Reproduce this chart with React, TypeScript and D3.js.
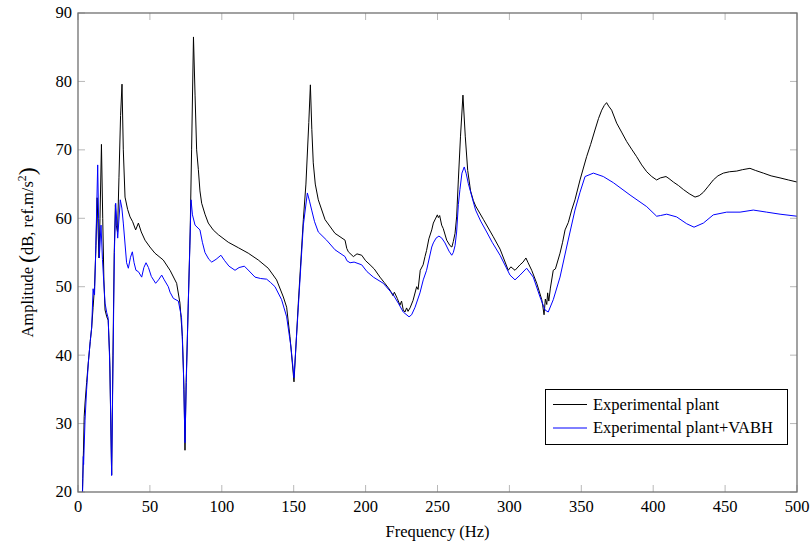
import React from "react";
import * as d3 from "d3";

// ---- data (frequency Hz, amplitude dB) ----
const plantPoints: [number, number][] = [
  [2.8, 17], [3.3, 22], [3.8, 26], [4.3, 31], [4.9, 33], [6, 36], [7.2, 39], [8.5, 42], [9.5, 44],
  [10.5, 47], [11.5, 50], [12.5, 56], [13.3, 63], [14.6, 54.2], [15.3, 60], [16.3, 70.8], [17.2, 60],
  [18, 51], [18.8, 46.6], [20, 45.6], [21, 45.1], [22, 40], [23.4, 22.5], [24.3, 40], [25.2, 55],
  [26, 62], [26.6, 59], [27.5, 58], [28.5, 66], [29.6, 75], [30.6, 79.6], [31.5, 70], [32.7, 63.1],
  [34.5, 61.3], [36.2, 60.2], [38, 59.5], [40.1, 58.3], [42, 59.3], [44, 58], [46.6, 56.8], [50, 55.8],
  [53.5, 54.9], [59.3, 53.9], [64, 52.4], [68.6, 50.5], [70.9, 47.6], [72.6, 42.7], [73.7, 35],
  [74.4, 26.1], [75.2, 36], [76.7, 47.6], [78, 58], [79, 70], [80.3, 86.5], [81.4, 78], [82.5, 70],
  [83.7, 67.1], [84.8, 64], [86, 62.2], [88.3, 60.6], [90.6, 59.3], [94, 58.3], [97.6, 57.6],
  [104.5, 56.5], [111.5, 55.7], [118.4, 54.9], [125.4, 53.9], [132.3, 52.7], [138.1, 51],
  [142.8, 48.5], [145.1, 47], [147.4, 42.7], [150.2, 36.1], [153.2, 47.6], [156.7, 59.8], [158.5, 65],
  [160.5, 74], [161.6, 79.5], [162.6, 73], [163.6, 68.1], [165, 65], [167.1, 62.7], [171.8, 59.8],
  [178.7, 57.8], [185.7, 56.8], [186.9, 55.6], [188, 55.1], [191.5, 54.4], [194, 54.8], [197.3, 54.6],
  [200, 53.8], [203.1, 53.2], [206, 52.6], [210, 51.4], [213, 50.6], [217, 49.5], [219, 48.7],
  [220, 49.2], [222, 48.3], [223.9, 47.3], [225, 47.9], [226.2, 46.6], [227.4, 46.3], [228.5, 46.9],
  [229.5, 46.4], [230.9, 46.9], [233, 48], [235.5, 50], [236.5, 49.6], [238, 52.4], [240, 53.2],
  [241.3, 54.4], [242.4, 55.3], [244, 57], [246, 58.3], [247.1, 59.3], [248.5, 59.9], [249.9, 60.5],
  [250.6, 60.1], [251.5, 60.4], [252.9, 59], [254, 58.5], [256.4, 56.8], [258.7, 56], [260, 55.8],
  [261, 56.6], [262.2, 57.8], [263.3, 60.2], [264.5, 65.6], [266, 72], [267.7, 78], [269.3, 72],
  [271, 67], [273, 64], [274.9, 62.6], [276.5, 61.8], [282, 59.8], [288.8, 57.3], [293.5, 55.5],
  [299.2, 52.4], [301, 52.9], [303.9, 52.4], [307.4, 53.2], [309.5, 53.6], [311.5, 54.2], [313, 53.5],
  [315.5, 52.4], [319, 50.5], [320.5, 49.5], [322.5, 48.1], [323.2, 47.2], [324.1, 45.9], [325, 48.2],
  [326, 47.4], [326.6, 49.1], [327.4, 47.9], [328.5, 49.8], [330.5, 52.4], [332, 52.6], [335.2, 54.9],
  [337, 56.5], [338.7, 58.3], [341, 59.4], [343.3, 61.2], [345.6, 62.7], [349.1, 65.6], [353.7, 69],
  [356.5, 70.8], [359.5, 72.9], [362, 74.6], [364.2, 75.8], [366, 76.5], [367.6, 76.9], [369, 76.4],
  [371.1, 75.8], [374.6, 73.9], [378, 72.6], [381.6, 71.2], [385, 70.1], [388.5, 69], [392, 67.8],
  [395.5, 66.8], [399, 66.1], [402.4, 65.6], [405, 65.9], [408.9, 66.1], [411, 65.8], [414, 65.3],
  [417.5, 64.8], [421, 64.2], [425, 63.6], [429.1, 63.1], [432, 63.3], [434.9, 63.8], [438, 64.6],
  [441.8, 65.6], [445, 66.2], [448.8, 66.6], [453, 66.8], [458.1, 66.9], [462, 67.1], [467.3, 67.3],
  [471, 67.0], [476.6, 66.6], [482, 66.2], [488.2, 65.9], [494, 65.6], [500, 65.3],
];

const vabhPoints: [number, number][] = [
  [2.8, 17], [3.3, 21], [3.7, 25.2], [3.9, 24], [4.9, 30.5], [6, 35], [7.2, 38.9], [8.5, 42], [9.5, 44],
  [10.5, 49.7], [11, 49], [11.5, 48.8], [12.3, 55], [13.7, 67.8], [14.3, 60], [14.8, 54.2], [16, 59],
  [17, 54], [18.8, 47.6], [20, 46.2], [21, 45.4], [22.2, 38], [23.4, 22.4], [24.3, 38], [25.3, 55],
  [26.2, 62.2], [27.6, 57.1], [29.4, 62.7], [30.5, 61.5], [31.5, 59.3], [33.8, 53.5], [35, 52.7],
  [36.5, 54.3], [37.8, 55.1], [39, 53.5], [40.3, 52.4], [42, 52.2], [44.3, 51.4], [45.8, 52.8],
  [47.3, 53.5], [49, 52.8], [51, 51.5], [54, 50.5], [56, 51], [58.2, 51.7], [60, 51], [62.8, 50],
  [64, 49.2], [66.3, 48.3], [69.8, 47.9], [72, 45.5], [73.3, 38], [74.4, 27.2], [75.3, 36],
  [76.7, 47.6], [77.8, 56], [78.6, 62.7], [79.6, 60.5], [81.4, 59], [84.8, 58.3], [86.5, 56.5],
  [88.3, 55], [91, 54], [93, 53.6], [96, 54], [99.4, 54.6], [102, 53.8], [105, 53], [109.2, 52.4],
  [112, 52.8], [115.7, 53], [119, 52.3], [123.1, 51.4], [127, 51.2], [131.2, 51.1], [134, 50.6],
  [137, 50], [141.6, 48.1], [145.1, 45.6], [148.1, 41.2], [150.2, 36.7], [153.2, 47], [156.7, 59],
  [159.5, 63.7], [161, 62.5], [162.5, 61.2], [164.5, 59.5], [167.1, 58], [172.9, 56.8], [178.7, 55.4],
  [182.2, 54.9], [185.7, 54.4], [187, 53.8], [189.2, 53.5], [192, 53.6], [197.3, 53.2], [201, 52.2],
  [205.4, 51.4], [212.3, 50.5], [219.3, 48.8], [223, 47.5], [226.2, 46.3], [230.2, 45.6], [232, 45.9],
  [234.4, 47], [237.8, 49.1], [240.1, 51], [242.4, 52.4], [246, 55.8], [247.1, 56.4], [249, 57.1],
  [251, 57.4], [253, 57.1], [255.2, 56.4], [258, 55.2], [259.9, 54.6], [261, 55], [262.2, 56],
  [263.3, 58], [264.5, 62], [265.6, 64.2], [267, 66.6], [268.6, 67.5], [270, 66.5], [271.4, 65.1],
  [274.9, 62.4], [276.5, 61.2], [280, 59.6], [284.2, 58], [288, 56.5], [293.5, 54.6], [300.4, 51.7],
  [303.9, 51], [307.4, 51.7], [312, 52.7], [316.6, 51.4], [321.3, 48.5], [324.8, 46.6], [327, 46.3],
  [330.5, 48.1], [335.2, 51.4], [339.8, 55.8], [345.6, 61.2], [349.1, 63.8], [352.6, 66.1],
  [358.4, 66.6], [365.3, 66.1], [372.3, 65.2], [383.9, 63.4], [395.5, 61.7], [402.4, 60.3], [405, 60.4],
  [409.4, 60.6], [416.3, 60.2], [423.3, 59.2], [428.4, 58.7], [434.9, 59.3], [441.8, 60.5],
  [451.1, 60.9], [460.4, 60.9], [469.6, 61.2], [478.9, 60.9], [488.2, 60.6], [500, 60.3],
];

const xTicks = [0, 50, 100, 150, 200, 250, 300, 350, 400, 450, 500];
const yTicks = [20, 30, 40, 50, 60, 70, 80, 90];
const seriesNames = ["Experimental plant", "Experimental plant+VABH"];
const seriesColors = ["#000000", "#0000ff"];

const W = 811;
const H = 543;
const margin = { left: 78, right: 14, top: 13, bottom: 51 };
const FONT = "'Liberation Serif', 'Times New Roman', serif";

export default function App() {
  const x = d3.scaleLinear().domain([0, 500]).range([margin.left, W - margin.right]);
  const y = d3.scaleLinear().domain([20, 90]).range([H - margin.bottom, margin.top]);
  const line = d3
    .line<[number, number]>()
    .x((d) => x(d[0]))
    .y((d) => y(d[1]))
    .curve(d3.curveLinear);

  const x0 = x(0), x1 = x(500), y0 = y(20), y1 = y(90);
  const tickLen = 7;
  const fs = 16.5;

  return (
    <svg
      width={W}
      height={H}
      style={{ position: "absolute", left: 0, top: 0, background: "#fff" }}
      fontFamily={FONT}
    >
      <defs>
        <clipPath id="plotclip">
          <rect x={x0} y={y1} width={x1 - x0} height={y0 - y1} />
        </clipPath>
      </defs>

      {/* ticks */}
      {xTicks.map((t) => (
        <g key={"xt" + t}>
          <line x1={x(t)} x2={x(t)} y1={y0} y2={y0 - tickLen} stroke="#b8b8b8" strokeWidth={1} />
          <line x1={x(t)} x2={x(t)} y1={y1} y2={y1 + tickLen} stroke="#b8b8b8" strokeWidth={1} />
          <text x={x(t)} y={512} textAnchor="middle" fontSize={fs} fill="#000">
            {t}
          </text>
        </g>
      ))}
      {yTicks.map((t) => (
        <g key={"yt" + t}>
          <line x1={x0} x2={x0 + tickLen} y1={y(t)} y2={y(t)} stroke="#b8b8b8" strokeWidth={1} />
          <line x1={x1} x2={x1 - tickLen} y1={y(t)} y2={y(t)} stroke="#b8b8b8" strokeWidth={1} />
          <text x={72} y={y(t)} dy="0.33em" textAnchor="end" fontSize={fs} fill="#000">
            {t}
          </text>
        </g>
      ))}

      {/* curves */}
      <g clipPath="url(#plotclip)">
        <path d={line(plantPoints) || ""} fill="none" stroke={seriesColors[0]} strokeWidth={1} strokeLinejoin="round" />
        <path d={line(vabhPoints) || ""} fill="none" stroke={seriesColors[1]} strokeWidth={1} strokeLinejoin="round" />
      </g>

      {/* frame */}
      <rect x={x0} y={y1} width={x1 - x0} height={y0 - y1} fill="none" stroke="#707070" strokeWidth={1.3} />

      {/* axis labels */}
      <text x={(x0 + x1) / 2} y={537} textAnchor="middle" fontSize={fs} fill="#000">
        Frequency (Hz)
      </text>
      <text
        transform={`translate(33, ${(y0 + y1) / 2}) rotate(-90)`}
        textAnchor="middle"
        fontSize={fs}
        fill="#000"
      >
        <tspan>Amplitude </tspan>
        <tspan fontSize={fs * 1.45} dy="2">(</tspan>
        <tspan dy="-2">dB, ref.m/s</tspan>
        <tspan fontSize={fs * 0.7} dy="-7">2</tspan>
        <tspan fontSize={fs * 1.45} dy="9">)</tspan>
      </text>

      {/* legend */}
      <g>
        <rect x={545.5} y={389.5} width={242} height={55} fill="#fff" stroke="#000" strokeWidth={1} />
        {seriesNames.map((n, i) => (
          <g key={n}>
            <line x1={553} x2={587} y1={404.5 + i * 23.5} y2={404.5 + i * 23.5} stroke={seriesColors[i]} strokeWidth={1} />
            <text x={593} y={409.5 + i * 23.5} fontSize={fs} fill="#000">
              {n}
            </text>
          </g>
        ))}
      </g>
    </svg>
  );
}
